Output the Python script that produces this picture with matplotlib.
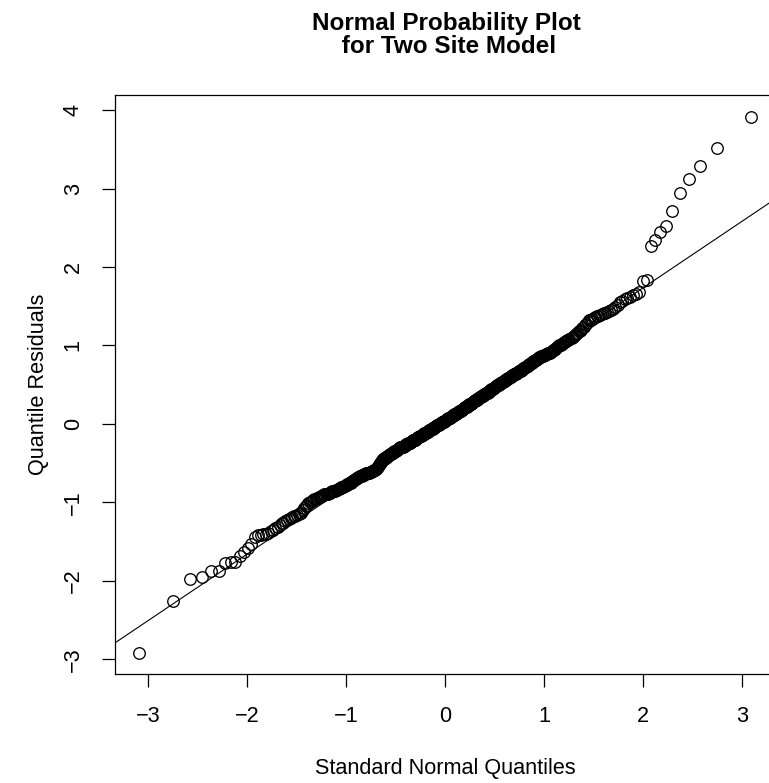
#!/usr/bin/env python

from statistics import NormalDist

import numpy as np
import matplotlib as mpl
mpl.use('Agg')
from matplotlib import pyplot as plt

# sorted quantile residuals (500 points, low to high)
residuals = [
    -2.92, -2.26, -1.98, -1.95, -1.88, -1.88, -1.78, -1.76, -1.76, -1.69,
    -1.63, -1.58, -1.53, -1.44, -1.42, -1.42, -1.41, -1.40, -1.39, -1.36,
    -1.35, -1.33, -1.31, -1.29, -1.27, -1.26, -1.24, -1.22, -1.21, -1.20,
    -1.19, -1.18, -1.17, -1.16, -1.15, -1.14, -1.13, -1.10, -1.07, -1.05,
    -1.03, -1.01, -1.00, -0.99, -0.98, -0.97, -0.96, -0.96, -0.95, -0.94,
    -0.93, -0.93, -0.92, -0.92, -0.91, -0.90, -0.90, -0.89, -0.89, -0.88,
    -0.88, -0.87, -0.87, -0.86, -0.86, -0.85, -0.85, -0.84, -0.84, -0.83,
    -0.83, -0.82, -0.82, -0.81, -0.80, -0.80, -0.79, -0.79, -0.78, -0.78,
    -0.77, -0.77, -0.76, -0.75, -0.75, -0.74, -0.73, -0.73, -0.72, -0.71,
    -0.70, -0.70, -0.69, -0.69, -0.68, -0.68, -0.67, -0.67, -0.66, -0.66,
    -0.65, -0.65, -0.65, -0.64, -0.64, -0.63, -0.63, -0.63, -0.62, -0.62,
    -0.62, -0.61, -0.61, -0.61, -0.60, -0.60, -0.60, -0.59, -0.59, -0.59,
    -0.58, -0.57, -0.56, -0.55, -0.54, -0.53, -0.51, -0.50, -0.49, -0.48,
    -0.46, -0.46, -0.45, -0.45, -0.44, -0.44, -0.43, -0.42, -0.42, -0.41,
    -0.41, -0.40, -0.40, -0.39, -0.39, -0.38, -0.38, -0.37, -0.37, -0.36,
    -0.36, -0.35, -0.35, -0.34, -0.34, -0.33, -0.33, -0.32, -0.32, -0.31,
    -0.31, -0.31, -0.30, -0.30, -0.30, -0.29, -0.29, -0.29, -0.28, -0.28,
    -0.28, -0.27, -0.27, -0.26, -0.26, -0.26, -0.25, -0.25, -0.24, -0.24,
    -0.24, -0.23, -0.23, -0.22, -0.22, -0.21, -0.21, -0.21, -0.20, -0.20,
    -0.20, -0.19, -0.19, -0.18, -0.18, -0.17, -0.17, -0.17, -0.16, -0.16,
    -0.15, -0.15, -0.14, -0.14, -0.14, -0.13, -0.13, -0.12, -0.12, -0.12,
    -0.11, -0.11, -0.10, -0.10, -0.10, -0.09, -0.09, -0.08, -0.08, -0.08,
    -0.07, -0.07, -0.06, -0.06, -0.06, -0.05, -0.05, -0.04, -0.04, -0.04,
    -0.03, -0.03, -0.02, -0.02, -0.02, -0.01, -0.01, 0.00, 0.00, 0.00,
    0.01, 0.01, 0.02, 0.02, 0.02, 0.03, 0.03, 0.04, 0.04, 0.04,
    0.05, 0.05, 0.06, 0.06, 0.06, 0.07, 0.07, 0.08, 0.08, 0.08,
    0.09, 0.09, 0.10, 0.10, 0.10, 0.11, 0.11, 0.12, 0.12, 0.12,
    0.13, 0.13, 0.14, 0.14, 0.15, 0.15, 0.15, 0.16, 0.16, 0.17,
    0.17, 0.18, 0.18, 0.18, 0.19, 0.19, 0.20, 0.20, 0.21, 0.21,
    0.21, 0.22, 0.22, 0.23, 0.23, 0.24, 0.24, 0.25, 0.25, 0.25,
    0.26, 0.26, 0.27, 0.27, 0.28, 0.28, 0.29, 0.29, 0.29, 0.30,
    0.30, 0.31, 0.31, 0.32, 0.32, 0.33, 0.33, 0.34, 0.34, 0.34,
    0.35, 0.35, 0.36, 0.36, 0.37, 0.37, 0.38, 0.38, 0.38, 0.39,
    0.39, 0.40, 0.40, 0.41, 0.41, 0.42, 0.42, 0.43, 0.43, 0.44,
    0.44, 0.45, 0.45, 0.46, 0.46, 0.47, 0.47, 0.48, 0.48, 0.49,
    0.49, 0.50, 0.50, 0.51, 0.51, 0.52, 0.52, 0.53, 0.53, 0.54,
    0.54, 0.55, 0.55, 0.56, 0.56, 0.57, 0.57, 0.58, 0.58, 0.59,
    0.59, 0.60, 0.60, 0.61, 0.61, 0.62, 0.62, 0.63, 0.63, 0.64,
    0.64, 0.65, 0.65, 0.66, 0.66, 0.67, 0.67, 0.68, 0.68, 0.69,
    0.69, 0.70, 0.71, 0.71, 0.72, 0.72, 0.73, 0.74, 0.74, 0.75,
    0.76, 0.76, 0.77, 0.78, 0.78, 0.79, 0.80, 0.80, 0.81, 0.82,
    0.82, 0.83, 0.84, 0.84, 0.85, 0.85, 0.86, 0.86, 0.87, 0.87,
    0.88, 0.88, 0.89, 0.89, 0.90, 0.90, 0.91, 0.91, 0.92, 0.93,
    0.94, 0.94, 0.95, 0.96, 0.97, 0.98, 0.99, 1.00, 1.00, 1.01,
    1.02, 1.03, 1.04, 1.05, 1.06, 1.07, 1.07, 1.08, 1.09, 1.10,
    1.11, 1.12, 1.13, 1.15, 1.16, 1.18, 1.19, 1.20, 1.22, 1.24,
    1.26, 1.28, 1.30, 1.32, 1.33, 1.34, 1.35, 1.36, 1.37, 1.38,
    1.39, 1.40, 1.41, 1.42, 1.43, 1.44, 1.45, 1.47, 1.49, 1.52,
    1.55, 1.57, 1.59, 1.61, 1.62, 1.64, 1.66, 1.68, 1.82, 1.84,
    2.27, 2.35, 2.45, 2.52, 2.71, 2.94, 3.12, 3.29, 3.52, 3.92,
]

x_ticks = [-3, -2, -1, 0, 1, 2, 3]
y_ticks = [-3, -2, -1, 0, 1, 2, 3, 4]
title = 'Normal Probability Plot\n for Two Site Model'
x_label = 'Standard Normal Quantiles'
y_label = 'Quantile Residuals'


def normal_quantiles(n):
    """ theoretical quantiles, same as R's qnorm(ppoints(n)) """
    a = 3.0/8 if n <= 10 else 0.5
    nd = NormalDist()
    return np.array([nd.inv_cdf((i + 1 - a) / (n + 1 - 2*a)) for i in range(n)])


def qq_line(sample):
    """ line through the first and third quartiles (like R's qqline) """
    yq = np.quantile(sample, [0.25, 0.75])
    nd = NormalDist()
    xq = np.array([nd.inv_cdf(0.25), nd.inv_cdf(0.75)])
    slope = (yq[1] - yq[0]) / (xq[1] - xq[0])
    return (xq[0], yq[0]), slope


def main():

    mpl.rcParams.update({
        'font.family': ['Liberation Sans', 'DejaVu Sans'],
        'font.size': 15.6,
        'axes.linewidth': 0.9,
    })

    fig = plt.figure(figsize=(7.69, 7.83), dpi=100)
    ax = fig.add_axes([0.1495, 0.1388, 0.8593, 0.7398])

    sample = np.sort(np.array(residuals))
    theo = normal_quantiles(len(sample))

    ax.plot(theo, sample, 'o', mfc='none', mec='k', ms=8.3, mew=0.95)
    ax.margins(0.04)

    point, slope = qq_line(sample)
    ax.axline(point, slope=slope, color='k', lw=0.8)

    ax.set_xticks(x_ticks)
    ax.set_yticks(y_ticks)
    ax.tick_params(direction='out', length=9.5, width=0.9, pad=13)
    for lab in ax.get_yticklabels():
        lab.set_rotation(90)
        lab.set_va('center')

    ax.set_xlabel(x_label, va='center')
    ax.xaxis.set_label_coords(0.5, -0.162)
    ax.set_ylabel(y_label, va='center')
    ax.yaxis.set_label_coords(-0.115, 0.5)

    fig.text(446/769, 1 - 35/783, title, ha='center', va='center',
        fontsize=17.5, fontweight='bold', linespacing=1.0)

    fig.savefig('out.png', dpi=100)

if __name__ == '__main__':
    main()
